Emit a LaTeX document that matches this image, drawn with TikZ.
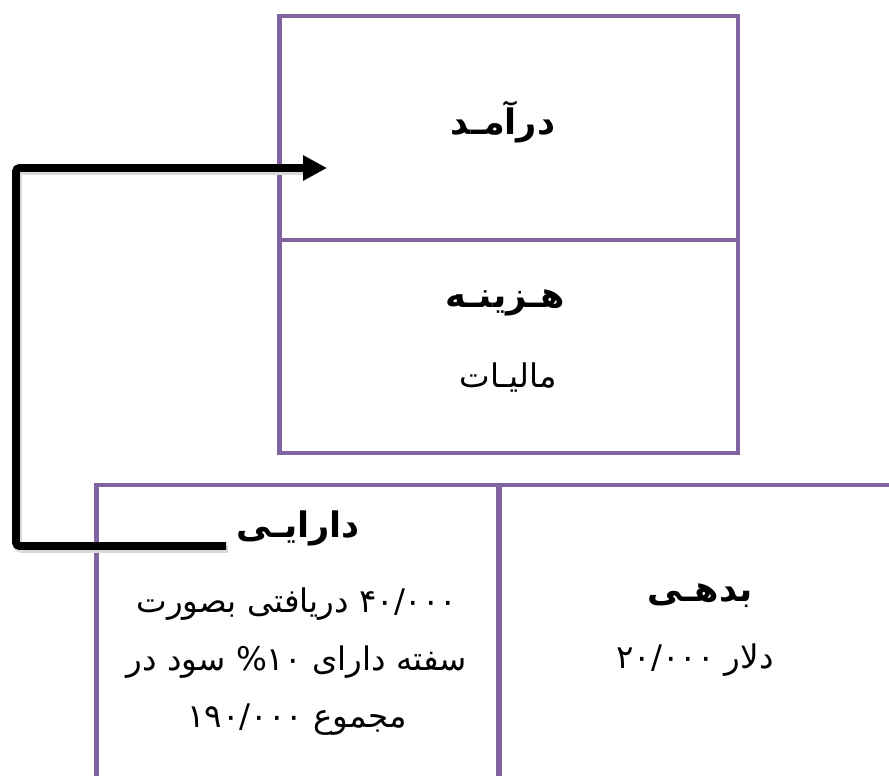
\documentclass[tikz,border=0pt]{standalone}
\usepackage{fontspec}
\newfontfamily\arabicfont[Script=Arabic]{DejaVu Sans}
\TeXXeTstate=1
\usetikzlibrary{arrows.meta}
\definecolor{boxpurple}{HTML}{8064A2}

\begin{document}
\begin{tikzpicture}[x=0.02cm, y=-0.02cm,
    acct/.style={draw=boxpurple, line width=2.8pt, inner sep=0pt},
    head/.style={font=\arabicfont\bfseries\fontsize{20}{24}\selectfont},
    body/.style={font=\arabicfont\fontsize{18.5}{22}\selectfont}]
  \useasboundingbox (0,0) rectangle (889,776);
  \clip (0,0) rectangle (889,776);

  % --- income statement (top) ---
  \node[acct, minimum width=9.18cm, minimum height=4.48cm] (income) at (508.5,128) {};
  \node[acct, minimum width=9.18cm, minimum height=4.26cm] (expense) at (508.5,346.5) {};
  \node[head] (incometitle) at (503,122) {\beginR درآمـد\endR};
  \node[head] (expensetitle) at (505,303) {\beginR هـزینـه\endR};
  \node[body] (tax) at (508,378) {\beginR مالیـات\endR};

  % --- balance sheet (bottom, runs off the page) ---
  \node[acct, minimum width=8.06cm, minimum height=7cm] (asset) at (298,660) {};
  \node[acct, minimum width=8.1cm, minimum height=7cm] (liab) at (700.5,660) {};
  \node[head] (assettitle) at (298,528) {\beginR دارایـی\endR};
  \node[head] (liabtitle) at (700,596) {\beginR بدهـی\endR};
  \node[body] (liabline) at (695,660) {\beginR دلار ۲۰/۰۰۰\endR};
  \foreach \y/\txt in {604/{۴۰/۰۰۰ دریافتی بصورت},
                       662/{سفته دارای \%۱۰ سود در},
                       720/{مجموع ۱۹۰/۰۰۰}}
    \node[body] (note\y) at (297,\y) {\beginR\txt\endR};

  % --- transfer arrow ---
  \coordinate (from) at (226,546);
  \coordinate (to) at (327,168);
  \draw[black!15, line width=4.5pt, rounded corners=2pt]
    ([shift={(2,3)}]from) -| ([shift={(2,3)}]16,168) -- ([shift={(-20,3)}]to);
  \draw[line width=4.5pt, rounded corners=2pt, -{Triangle[length=0.48cm, width=0.48cm]}]
    (from) -| (16,168) -- (to);
\end{tikzpicture}
\end{document}
